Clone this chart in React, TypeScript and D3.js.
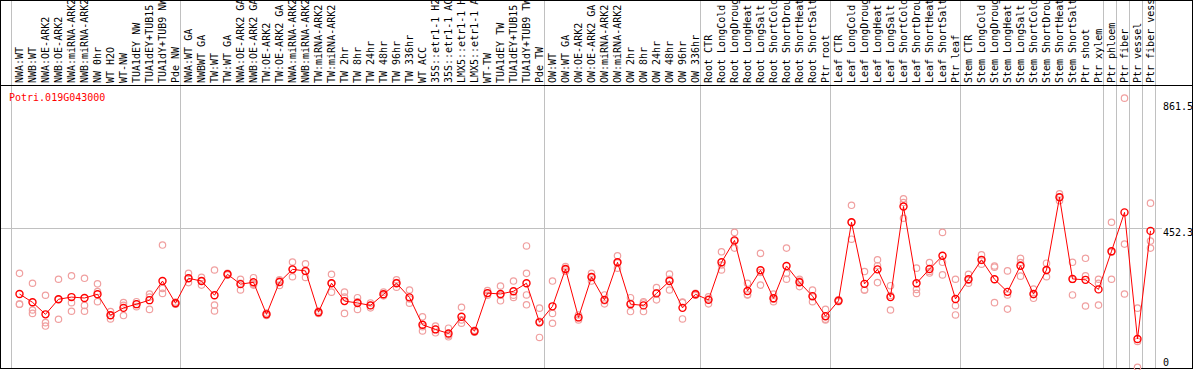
import React from "react";
import * as d3 from "d3";

const geneId = "Potri.019G043000";

const categories = [
  "NWA:WT", "NWB:WT", "NWA:OE-ARK2", "NWB:OE-ARK2", "NWA:miRNA-ARK2", "NWB:miRNA-ARK2", "NW 0hr", "WT H2O", "WT-NW", "TUA1dEY NW",
  "TUA1dEY+TUB15 NW", "TUA1dY+TUB9 NW", "Pde NW", "NWA:WT GA", "NWBWT GA", "TW:WT", "TW:WT GA", "NWA:OE-ARK2 GA", "NWB:OE-ARK2 GA", "TW:OE-ARK2",
  "TW:OE-ARK2 GA", "NWA:miRNA-ARK2 GA", "NWB:miRNA-ARK2 GA", "TW:miRNA-ARK2", "TW:miRNA-ARK2 GA", "TW 2hr", "TW 8hr", "TW 24hr", "TW 48hr", "TW 96hr",
  "TW 336hr", "WT ACC", "35S::etr1-1 H2O", "35S::etr1-1 ACC", "LMX5::etr1-1 H2O", "LMX5::etr1-1 ACC", "WT-TW", "TUA1dEY TW", "TUA1dEY+TUB15 TW", "TUA1dY+TUB9 TW",
  "Pde TW", "OW:WT", "OW:WT GA", "OW:OE-ARK2", "OW:OE-ARK2 GA", "OW:miRNA-ARK2", "OW:miRNA-ARK2 GA", "OW 2hr", "OW 8hr", "OW 24hr",
  "OW 48hr", "OW 96hr", "OW 336hr", "Root CTR", "Root LongCold", "Root LongDrought", "Root LongHeat", "Root LongSalt", "Root ShortCold", "Root ShortDrought",
  "Root ShortHeat", "Root ShortSalt", "Ptr root", "Leaf CTR", "Leaf LongCold", "Leaf LongDrought", "Leaf LongHeat", "Leaf LongSalt", "Leaf ShortCold", "Leaf ShortDrought",
  "Leaf ShortHeat", "Leaf ShortSalt", "Ptr leaf", "Stem CTR", "Stem LongCold", "Stem LongDrought", "Stem LongHeat", "Stem LongSalt", "Stem ShortCold", "Stem ShortDrought",
  "Stem ShortHeat", "Stem ShortSalt", "Ptr shoot", "Ptr xylem", "Ptr phloem", "Ptr fiber", "Ptr vessel", "Ptr fiber vessel",
];

const meanValues = [
  238, 211, 172, 221, 228, 225, 237, 169, 193, 205,
  218, 280, 208, 289, 280, 234, 302, 270, 276, 172,
  277, 318, 313, 179, 273, 215, 209, 201, 237, 273,
  227, 138, 123, 110, 164, 117, 241, 238, 247, 273,
  146, 198, 319, 162, 293, 219, 341, 205, 201, 240,
  280, 193, 237, 219, 341, 412, 248, 315, 224, 329,
  276, 231, 166, 216, 471, 271, 318, 228, 522, 273,
  319, 362, 222, 286, 349, 286, 245, 330, 238, 316,
  552, 287, 284, 253, 377, 503, 92, 443,
];

const replicateValues = [
  [305, 205, 205], [273, 186, 175], [234, 145, 134], [286, 156, 221], [297, 210, 182],
  [289, 201, 182], [271, 246, 213], [181, 169, 157], [210, 168, 201], [213, 205, 197],
  [238, 188, 228], [397, 256, 240], [208, 205, 212], [305, 275, 289], [292, 267, 281],
  [316, 202, 183], [305, 300, 301], [286, 251, 273], [291, 267, 270], [172, 168, 176],
  [266, 284, 281], [342, 294, 318], [336, 292, 311], [179, 175, 183], [302, 244, 273],
  [244, 175, 228], [226, 188, 213], [193, 201, 209], [232, 244, 236], [284, 260, 275],
  [251, 208, 222], [164, 118, 132], [134, 112, 123], [127, 99, 104], [195, 143, 154],
  [117, 114, 120], [249, 240, 234], [264, 216, 234], [280, 227, 234], [394, 305, 235, 203],
  [192, 97, 149], [280, 175, 143], [327, 318, 312], [154, 162, 170], [305, 293, 280],
  [235, 206, 216], [362, 322, 339], [226, 181, 208], [213, 181, 209], [259, 219, 242],
  [303, 251, 286], [210, 157, 212], [237, 234, 240], [229, 206, 222], [375, 316, 332],
  [438, 387, 411], [273, 235, 236], [370, 267, 308], [238, 213, 221], [387, 286, 305],
  [286, 262, 280], [251, 213, 229], [188, 154, 156], [216, 213, 219], [526, 416, 471],
  [311, 251, 251], [349, 275, 330], [265, 186, 233], [547, 484, 535], [322, 240, 253],
  [340, 311, 306], [438, 341, 300], [286, 200, 170], [302, 273, 283], [365, 335, 347],
  [329, 210, 325], [313, 235, 189], [354, 340, 296], [254, 224, 236], [338, 294, 316],
  [563, 541, 552], [341, 235, 285], [354, 297, 199], [286, 202, 273], [471, 286, 374],
  [874, 400, 238], [192, 0, 84], [533, 410, 387],
];

// indices where a new group starts (vertical separator before that category)
const groupStarts = [0, 13, 41, 53, 63, 73, 84, 85, 86, 87, 88];

const axisTicks = [0, 452.3, 861.5];
const gridTicks = [452.3];

const W = 1194;
const H = 370;
const FONT = "'DejaVu Sans Mono', monospace";

export default function App() {
  const band = d3
    .scaleBand<number>()
    .domain(d3.range(categories.length + 1))
    .range([11.5, 11.5 + 13 * (categories.length + 1)])
    .padding(0);
  const xc = (i: number) => (band(i) as number) + 8;
  const xSep = (i: number) => band(i) as number;

  const y = d3.scaleLinear().domain([0, 861.5]).range([367.3, 102]);

  const line = d3
    .line<number>()
    .x((_, i) => xc(i))
    .y((d) => y(d));

  return (
    <svg
      width={W}
      height={H}
      style={{ position: "absolute", left: 0, top: 0, background: "#fff" }}
    >
      <rect x={0} y={0} width={W} height={H} fill="#fff" />
      {/* vertical separators */}
      {groupStarts.map((g) => (
        <line
          key={"v" + g}
          x1={xSep(g)}
          x2={xSep(g)}
          y1={0}
          y2={369}
          stroke="#c0c0c0"
          strokeWidth={1}
        />
      ))}
      {/* horizontal grid */}
      {gridTicks.map((t) => (
        <line
          key={"h" + t}
          x1={1}
          x2={1162}
          y1={Math.round(y(t)) + 0.5}
          y2={Math.round(y(t)) + 0.5}
          stroke="#c0c0c0"
          strokeWidth={1}
        />
      ))}
      {/* header labels */}
      {categories.map((c, i) => (
        <text
          key={"l" + i}
          transform={`translate(${xc(i) + 3},83) rotate(-90)`}
          fontFamily={FONT}
          fontSize={10}
          fill="#000"
        >
          {c}
        </text>
      ))}
      {/* frame */}
      <rect x={0.5} y={0.5} width={1192} height={368} fill="none" stroke="#000" strokeWidth={1} />
      <line x1={0} x2={1193} y1={85.5} y2={85.5} stroke="#000" strokeWidth={1} />
      {/* gene id */}
      <text x={9} y={101} fontFamily={FONT} fontSize={10} fill="#ff0000">
        {geneId}
      </text>
      {/* right axis labels */}
      {axisTicks.map((t) => (
        <text
          key={"t" + t}
          x={1163}
          y={Math.min(y(t) + 8, 366)}
          fontFamily={FONT}
          fontSize={10}
          fill="#000"
        >
          {t}
        </text>
      ))}
      {/* replicates */}
      {replicateValues.map((reps, i) =>
        reps.map((v, j) => (
          <circle
            key={`r${i}-${j}`}
            cx={xc(i)}
            cy={y(v)}
            r={3.2}
            fill="none"
            stroke="#f0a0a0"
            strokeWidth={1.2}
          />
        ))
      )}
      {/* mean line */}
      <path d={line(meanValues) || ""} fill="none" stroke="#ff0000" strokeWidth={1} />
      {meanValues.map((v, i) => (
        <circle
          key={"m" + i}
          cx={xc(i)}
          cy={y(v)}
          r={3.5}
          fill="none"
          stroke="#ff0000"
          strokeWidth={1.4}
        />
      ))}
    </svg>
  );
}
